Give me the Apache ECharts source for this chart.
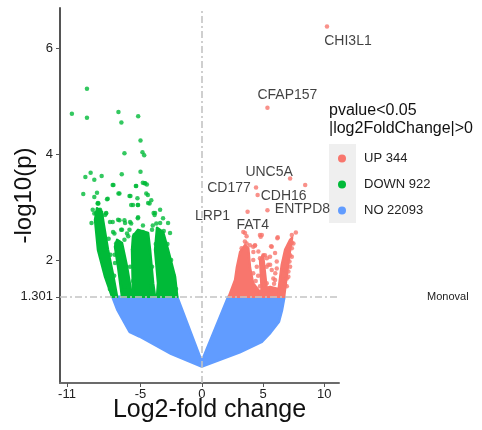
<!DOCTYPE html>
<html>
<head>
<meta charset="utf-8">
<script src="https://cdn.jsdelivr.net/npm/echarts@6/dist/echarts.min.js"></script>
<style>html,body{margin:0;padding:0;background:#fff}#chart{width:482px;height:430px}</style>
</head>
<body>
<div id="chart"></div>
<script>
// ---------- data ----------
const groupNames = ['UP 344', 'DOWN 922', 'NO 22093'];
const xTickValues = [-11, -5, 0, 5, 10];
const yTickValues = [1.301, 2, 4, 6];
const pThreshold = 1.301;

// non-significant genes: dense region outline
const noRegion = [[-7.3,1.301],[-2.0,1.301],[0,0.08],[2.15,1.301],[6.75,1.301],[6.55,1.05],[6.3,0.83],[5.6,0.62],[4.9,0.45],[3.1,0.25],[0,-0.02],[-2.5,0.22],[-5.08,0.55],[-5.9,0.64],[-6.3,0.81],[-6.9,1.06]];

// down-regulated dense stripes
const downCoreA = [[-7.32,1.301],[-7.89,1.68],[-8.47,2.19],[-8.71,2.76],[-8.55,2.98],[-8.14,2.91],[-8.06,2.76],[-7.65,2.19],[-7.24,1.72],[-6.91,1.301]];
const downCoreB = [[-6.51,1.301],[-6.83,1.87],[-7.08,2.25],[-6.91,2.38],[-6.51,2.32],[-6.1,1.87],[-5.69,1.301]];
const downCoreC = [[-5.61,1.301],[-5.69,2.19],[-5.61,2.45],[-5.2,2.57],[-4.38,2.51],[-4.22,2.19],[-3.97,1.56],[-3.81,1.301]];
const downCoreD = [[-3.65,1.301],[-3.57,1.56],[-3.81,2.19],[-3.65,2.61],[-3.16,2.53],[-2.75,2.19],[-2.18,1.68],[-2.0,1.301]];

// up-regulated dense stripes
const upCoreA = [[2.2,1.301],[2.72,1.62],[2.86,1.85],[3.13,2.15],[3.53,2.28],[3.8,2.22],[3.94,1.85],[4.19,1.56],[4.76,1.39],[5.17,1.301]];
const upCoreM = [[4.92,1.301],[4.76,2.0],[5.0,2.09],[5.33,1.39],[5.58,1.301]];
const upBand = [[4.6,1.301],[4.92,1.45],[5.58,1.49],[6.23,1.45],[6.56,1.301]];
const upCoreB = [[6.25,1.301],[6.25,1.4],[6.53,1.91],[6.8,2.19],[7.21,2.38],[7.37,2.42],[7.21,2.19],[6.94,1.72],[6.72,1.301]];

// scattered down-regulated genes [log2FC, -log10 p]
const downPoints = [[-9.37,5.24],[-10.6,4.77],[-9.37,4.69],[-6.8,4.8],[-6.56,4.6],[-5.19,4.72],[-5.0,4.26],[-6.31,4.02],[-4.84,4.04],[-4.7,3.98],
[-9.07,3.65],[-9.5,3.57],[-8.77,3.52],[-8.17,3.59],[-6.53,3.62],[-5.0,3.67],[-7.21,3.42],[-5.38,3.4],[-4.81,3.46],[-4.48,3.43],[-4.62,3.45],
[-9.67,3.25],[-8.55,3.27],[-8.44,3.07],[-7.73,3.15],[-6.8,3.26],[-5.82,3.21],[-5.25,3.17],[-4.53,3.26],[-4.12,3.13],[-3.93,2.89],[-7.8,2.89],[-8.63,2.89],
[-8.77,3.19],[-7.68,3.16],[-7.27,3.42],[-6.72,3.26],[-5.9,3.21],[-5.35,3.4],[-4.67,3.45],[-5.76,3.04],[-5.22,3.04],[-4.4,3.23],[-4.26,3.07],[-8.5,3.07],
[-8.36,2.94],[-8.77,2.88],[-7.81,2.88],[-7.27,2.72],[-6.72,2.75],[-6.31,2.75],[-5.76,2.69],[-5.22,2.79],[-3.85,2.85],[-3.71,2.69],[-6.58,2.57],[-5.9,2.57],
[-7.13,2.5],[-6.99,2.31],[-6.31,2.38],[-5.49,2.47],[-4.81,2.53],[-6.0,2.45],[-5.6,2.2],[-5.5,1.9],[-5.6,1.6],[-7.1,2.1],[-7.15,1.7],[-6.1,2.5],
[-3.1,2.55],[-3.4,2.7],[-4.0,2.65],[-2.8,2.3],[-2.5,2.0],[-2.3,1.7],[-2.1,1.45],[-8.0,2.2],[-8.3,2.5],[-9.0,2.7],[-7.6,2.4],[-7.45,2.1],
[-8.47,3.08],[-8.3,2.95],[-7.89,2.85],[-7.49,2.72],[-6.83,2.76],[-6.26,2.7],[-5.85,2.72],[-5.2,2.81],[-3.81,2.89],[-3.16,2.79],[-2.75,2.7],
[-5.61,3.04],[-5.2,3.04],[-4.38,3.08],[-7.24,2.53],[-6.51,2.57],[-4.06,2.57],[-2.59,2.51],[-7.08,1.94],[-5.85,1.87],[-4.06,1.87],
[-4.1,1.5],[-3.75,2.3],[-6.3,1.5],[-7.5,1.45],[-8.9,2.95],[-4.8,2.65],[-3.4,2.95]];

// scattered up-regulated genes
const upPoints = [[7.68,2.52],[6.2,2.43],[5.66,2.26],[7.3,2.31],[3.66,2.31],[4.62,2.16],[5.03,2.09],[5.57,2.06],[6.12,1.97],[7.07,2.19],[7.35,2.06],
[6.8,1.81],[7.21,1.87],[5.3,1.87],[5.71,1.81],[5.03,1.75],[4.89,1.94],[4.2,2.0],[5.98,1.62],[6.94,1.5],[6.39,1.47],[4.75,1.5],[5.3,1.56],[5.71,1.43],
[4.2,1.75],[6.66,1.62],[7.07,1.68],[7.48,2.31],[7.35,2.22],[7.21,2.09],[7.16,1.97],[7.07,1.78],[6.94,1.65],[6.8,1.53],[5.71,2.25],[4.75,2.47],[4.2,2.25],
[3.39,2.53],[4.75,2.03],[5.43,1.91],[5.16,2.09],[8.44,3.42],[6.17,2.41],[7.35,2.33],[3.93,2.28],[3.25,2.22],[3.66,2.45],[3.52,2.35],[4.33,2.27],
[3.53,2.51],[4.9,2.47],[4.35,2.28],[4.21,2.15],[5.98,2.13],[5.31,2.03],[5.58,1.91],[6.12,1.84],[5.84,1.65],[5.03,1.72],[4.49,1.87],[7.35,2.47],
[4.4,1.6],[5.9,1.55],[6.0,1.75],[4.6,1.7]];

// labelled genes
const geneNames = ['CHI3L1','CFAP157','UNC5A','CD177','CDH16','ENTPD8','LRP1','FAT4'];
const geneFC = [10.22, 5.36, 7.21, 4.43, 4.56, 5.36, 3.74, 4.81];
const geneP = [6.42, 4.88, 3.54, 3.37, 3.23, 2.94, 2.91, 2.44];

// ---------- styling ----------
const colors = {up:'#F8766D', down:'#00BA38', no:'#619CFF'};
const labelOffsets = {CHI3L1:[21,15], CFAP157:[20,-13], UNC5A:[-21,-6], CD177:[-27,1], CDH16:[26,1], ENTPD8:[35,-1], LRP1:[-35,4], FAT4:[-8,-12]};
const FONT = 'Liberation Sans, Arial, sans-serif';

function polySeries(name, verts, color) {
  return {
    type: 'custom', name: name, data: verts, clip: true, silent: true,
    itemStyle: {color: color},
    renderItem: function (params, api) {
      if (params.dataIndex !== 0) return null;
      const pts = verts.map(v => api.coord(v));
      return {type: 'polygon', shape: {points: pts}, style: {fill: color, stroke: color, lineWidth: 2.5, lineJoin: 'round'}};
    }
  };
}

const chart = echarts.init(document.getElementById('chart'), null, {renderer: 'canvas'});
const option = {
  animation: false,
  grid: {left: 60, right: 143, top: 8, bottom: 47, outerBoundsMode: 'none', containLabel: false},
  xAxis: {
    type: 'value', min: -11.57, max: 11.2,
    splitLine: {show: false},
    axisLine: {show: true, onZero: false, lineStyle: {color: '#6b6b6b', width: 2}},
    axisTick: {show: true, length: 4, lineStyle: {color: '#555'}, customValues: xTickValues},
    axisLabel: {customValues: xTickValues, color: '#222', fontSize: 13, fontFamily: FONT, margin: 5},
    name: 'Log2-fold change', nameLocation: 'middle', nameGap: 15, nameMoveOverlap: false,
    nameTextStyle: {fontSize: 25, color: '#111', fontFamily: FONT, verticalAlign: 'top', padding: [0, 0, 0, 20]}
  },
  yAxis: {
    type: 'value', min: -0.33, max: 6.77,
    splitLine: {show: false},
    axisLine: {show: true, onZero: false, lineStyle: {color: '#555', width: 2}},
    axisTick: {show: true, length: 4, lineStyle: {color: '#555'}, customValues: yTickValues},
    axisLabel: {customValues: yTickValues, color: '#222', fontSize: 13, fontFamily: FONT, margin: 7},
    name: '-log10(p)', nameLocation: 'middle', nameGap: 24, nameRotate: 90, nameMoveOverlap: false,
    nameTextStyle: {fontSize: 24, color: '#111', fontFamily: FONT}
  },
  legend: {
    orient: 'vertical', left: 338, top: 152, padding: 0, itemWidth: 8, itemHeight: 8, itemGap: 13,
    data: groupNames.map(n => ({name: n, icon: 'circle'})),
    textStyle: {fontSize: 13, color: '#222', fontFamily: FONT, padding: [0, 0, 0, 13]},
    selectedMode: false
  },
  graphic: [
    {type: 'rect', left: 329, top: 144, shape: {width: 27, height: 79}, style: {fill: '#EFEFEF'}, z: 1},
    {type: 'text', left: 329, top: 103, style: {text: 'pvalue<0.05', fill: '#111', font: '16px ' + FONT}},
    {type: 'text', left: 329, top: 121, style: {text: '|log2FoldChange|>0', fill: '#111', font: '16px ' + FONT}},
    {type: 'text', left: 427, top: 291, style: {text: 'Monoval', fill: '#222', font: '11px ' + FONT}}
  ],
  series: [
    Object.assign(polySeries(groupNames[2], noRegion, colors.no), {
      markLine: {
        silent: true, symbol: 'none', label: {show: false},
        lineStyle: {color: '#c4c4c4', width: 1.6, type: [7, 3, 2, 3]},
        data: [{xAxis: 0}, {yAxis: pThreshold}]
      }
    }),
    polySeries(groupNames[1], downCoreA, colors.down),
    polySeries(groupNames[1], downCoreB, colors.down),
    polySeries(groupNames[1], downCoreC, colors.down),
    polySeries(groupNames[1], downCoreD, colors.down),
    {type: 'scatter', name: groupNames[1], data: downPoints, symbolSize: 4.5, itemStyle: {color: colors.down}, silent: true},
    polySeries(groupNames[0], upCoreA, colors.up),
    polySeries(groupNames[0], upCoreM, colors.up),
    polySeries(groupNames[0], upBand, colors.up),
    polySeries(groupNames[0], upCoreB, colors.up),
    {type: 'scatter', name: groupNames[0], data: upPoints, symbolSize: 4.5, itemStyle: {color: colors.up}, silent: true},
    {
      type: 'scatter', name: groupNames[0], symbolSize: 4.5, itemStyle: {color: colors.up}, silent: true,
      data: geneNames.map((g, i) => ({name: g, value: [geneFC[i], geneP[i]]})),
      label: {show: true, position: 'inside', formatter: '{b}', color: '#111', fontSize: 14, fontFamily: FONT,
              align: 'center', verticalAlign: 'middle'},
      labelLayout: function (params) {
        const off = labelOffsets[geneNames[params.dataIndex]];
        return {dx: off[0], dy: off[1], hideOverlap: false};
      }
    }
  ]
};
chart.setOption(option);
</script>
</body>
</html>
